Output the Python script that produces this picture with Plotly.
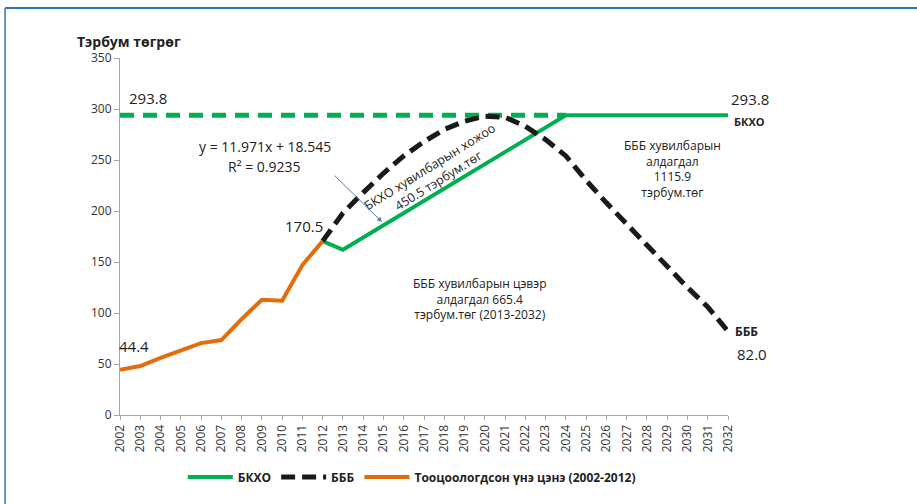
import plotly.graph_objects as go

# ---- data ----
years_hist = list(range(2002, 2013))
hist_values = [44.4, 48.0, 56.0, 63.5, 70.5, 73.5, 94.0, 113.0, 112.0, 147.0, 170.5]

years_bkxo = list(range(2012, 2033))
bkxo_values = [170.5, 162.0, 174.0, 186.0, 197.9, 209.9, 221.9, 233.9, 245.9, 257.8,
               269.8, 281.8, 293.8, 293.8, 293.8, 293.8, 293.8, 293.8, 293.8, 293.8, 293.8]

years_bbb = list(range(2012, 2033))
bbb_values = [170.5, 198.0, 218.0, 237.0, 254.0, 268.0, 280.0, 288.0, 293.0, 292.0,
              283.0, 270.0, 254.0, 230.0, 208.0, 187.0, 166.0, 145.0, 125.0, 106.0, 82.0]

years_target = list(range(2002, 2025))
target_values = [293.8] * len(years_target)

year_ticks = list(range(2002, 2033))
y_ticks = [0, 50, 100, 150, 200, 250, 300, 350]

FONT = "Open Sans, Noto Sans, DejaVu Sans, sans-serif"
GREEN = "#00b050"
ORANGE = "#e46c0a"
BLACK = "#1a1a1a"

fig = go.Figure()
fig.add_trace(go.Scatter(x=years_target, y=target_values, mode="lines",
                         line=dict(color=GREEN, width=5, dash="14px,9px"),
                         showlegend=False, hoverinfo="skip"))
fig.add_trace(go.Scatter(x=years_bkxo, y=bkxo_values, mode="lines", name="<b>БКХО</b>",
                         line=dict(color=GREEN, width=4)))
fig.add_trace(go.Scatter(x=years_bbb, y=bbb_values, mode="lines", name="<b>БББ</b>",
                         line=dict(color=BLACK, width=5, dash="14px,7px")))
fig.add_trace(go.Scatter(x=years_hist, y=hist_values, mode="lines",
                         name="<b>Тооцоологдсон үнэ цэнэ (2002-2012)</b>",
                         line=dict(color=ORANGE, width=4)))

ann = []
def txt(x, y, t, size=15, bold=False, angle=0, xanchor="center", xref="x", yref="y"):
    ann.append(dict(x=x, y=y, xref=xref, yref=yref, text=("<b>%s</b>" % t) if bold else t,
                    showarrow=False, textangle=angle, xanchor=xanchor, yanchor="middle",
                    font=dict(family=FONT, size=size, color="#222222")))

txt(2003.4, 310.8, "293.8")
txt(1.036, 0.885, "293.8", xref="paper", yref="paper")
txt(1.036, 0.8235, "БКХО", size=11, bold=True, xref="paper", yref="paper")
txt(2009.15, 263.7, "y = 11.971x + 18.545", size=14)
txt(2009.15, 244.1, "R² = 0.9235", size=14)
txt(2011.1, 185.3, "170.5")
txt(2002.7, 67.6, "44.4")
txt(2017.5, 237.0, "БКХО хувилбарын хожоо<br>450.5 тэрбум.төг", size=12.5, angle=-32)
txt(2019.76, 113.7, "БББ хувилбарын цэвэр<br>алдагдал 665.4<br>тэрбум.төг (2013-2032)", size=12)
txt(2029.24, 241.2, "БББ хувилбарын<br>алдагдал<br>1115.9<br>тэрбум.төг", size=12)
txt(1.031, 0.2325, "БББ", size=12, bold=True, xref="paper", yref="paper")
txt(1.039, 0.171, "82.0", xref="paper", yref="paper")
txt(-0.074, 1.045, "Тэрбум төгрөг", size=14, bold=True, xanchor="left", xref="paper", yref="paper")

# arrow
ann.append(dict(x=2014.93, y=189.2, xref="x", yref="y", ax=-49, ay=-48, text="",
                showarrow=True, arrowhead=2, arrowsize=1, arrowwidth=1, arrowcolor="#4a7ebb"))

fig.update_layout(
    width=917, height=504,
    margin=dict(l=120, r=189, t=58, b=89),
    paper_bgcolor="white", plot_bgcolor="white",
    font=dict(family=FONT, size=12, color="#222222"),
    annotations=ann,
    legend=dict(orientation="h", x=0.48, xanchor="center", y=-0.174, yanchor="middle",
                font=dict(family=FONT, size=12, color="#222222"), traceorder="normal",
                itemwidth=45),
    shapes=[
        dict(type="line", xref="paper", yref="paper", x0=-0.189, x1=1.32, y0=1.14, y1=1.14,
             line=dict(color="#2e75b6", width=2)),
        dict(type="line", xref="paper", yref="paper", x0=-0.189, x1=-0.189, y0=1.14, y1=-0.26,
             line=dict(color="#2e75b6", width=1.5)),
    ],
)
fig.update_xaxes(range=[2002, 2032], tickmode="array", tickvals=year_ticks,
                 ticktext=[str(v) for v in year_ticks], tickangle=-90,
                 showgrid=False, zeroline=False, showline=True, linecolor="#a6a6a6",
                 ticks="outside", ticklen=4, tickcolor="#a6a6a6",
                 tickfont=dict(size=12, family=FONT, color="#333333"))
fig.update_yaxes(range=[0, 350], tickmode="array", tickvals=y_ticks,
                 showgrid=False, zeroline=False, showline=True, linecolor="#a6a6a6",
                 ticks="outside", ticklen=5, tickcolor="#a6a6a6",
                 tickfont=dict(size=12, family=FONT, color="#333333"))

fig.write_html("out.html", config={"displayModeBar": False},
               post_script="document.body.style.margin='0';")
